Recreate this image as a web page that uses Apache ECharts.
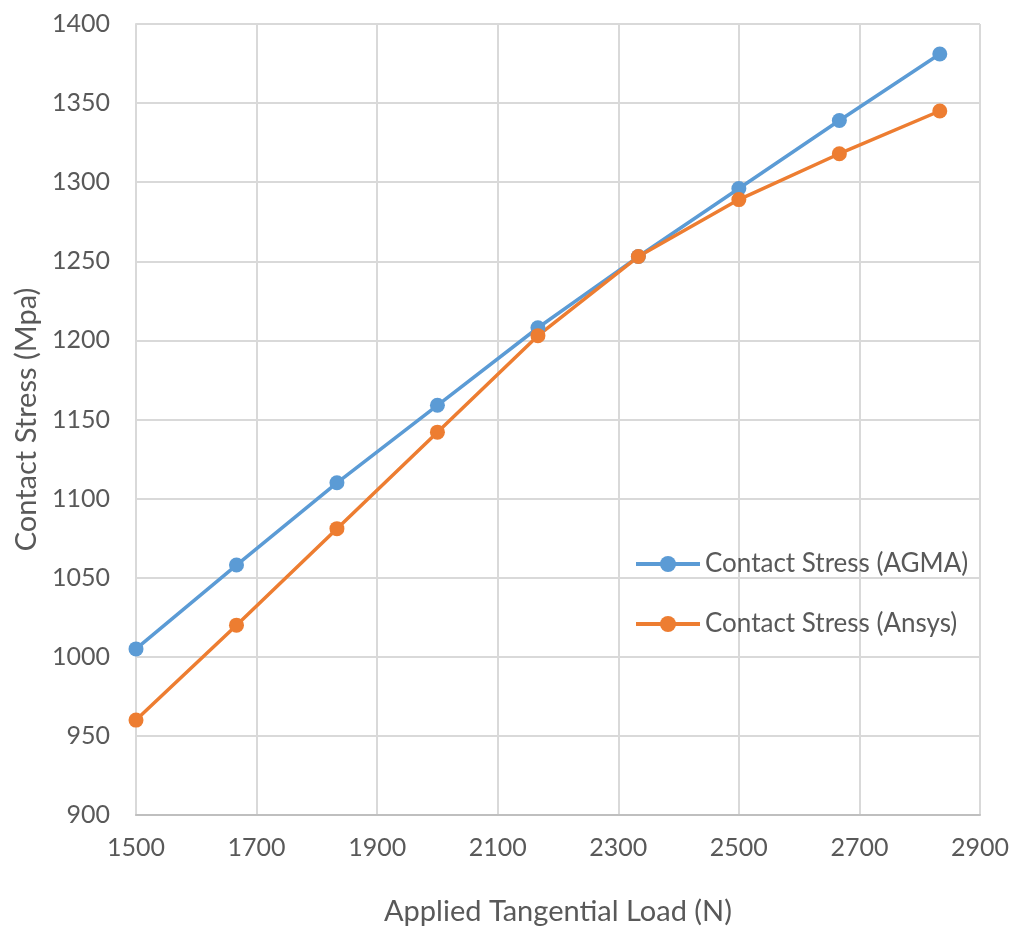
<!DOCTYPE html>
<html>
<head>
<meta charset="utf-8">
<script src="https://cdn.jsdelivr.net/npm/echarts@6/dist/echarts.min.js"></script>
<style>
  html, body { margin: 0; padding: 0; background: #fff; }
  #chart { width: 1013px; height: 930px; }
</style>
</head>
<body>
<div id="chart"></div>
<script>
// applied tangential load (N)
var loads = [1500, 1666.7, 1833.3, 2000, 2166.7, 2333.3, 2500, 2666.7, 2833.3];
// contact stress (MPa)
var agma = [1005, 1058, 1110, 1159, 1208, 1253, 1296, 1339, 1381];
var ansys = [960, 1020, 1081, 1142, 1203, 1253, 1289, 1318, 1345];

function pairs(xs, ys) {
    var out = [];
    for (var i = 0; i < xs.length; i++) {
        out.push([xs[i], ys[i]]);
    }
    return out;
}

var font = 'Lato, "Open Sans", sans-serif';
var textColor = '#595959';

var myChart = echarts.init(document.getElementById('chart'));
var option = {
    animation: false,
    textStyle: { fontFamily: font },
    grid: { left: 136, right: 33, top: 24, bottom: 115, outerBoundsMode: 'none' },
    legend: {
        orient: 'vertical',
        left: 629,
        top: 546,
        itemWidth: 64,
        itemHeight: 20,
        itemGap: 34,
        lineStyle: { width: 4 },
        textStyle: { fontSize: 26, color: textColor, fontFamily: font },
        data: ['Contact Stress (AGMA)', 'Contact Stress (Ansys)']
    },
    xAxis: {
        type: 'value',
        min: 1500,
        max: 2900,
        interval: 200,
        name: 'Applied Tangential Load (N)',
        nameLocation: 'middle',
        nameGap: 82,
        nameTextStyle: { fontSize: 29, color: textColor },
        axisLine: { lineStyle: { color: '#bfbfbf', width: 2 } },
        axisTick: { show: false },
        axisLabel: { fontSize: 25, color: textColor, margin: 20, formatter: function(v) { return String(v); } },
        splitLine: { lineStyle: { color: '#d9d9d9', width: 2 } }
    },
    yAxis: {
        type: 'value',
        min: 900,
        max: 1400,
        interval: 50,
        name: 'Contact Stress (Mpa)',
        nameLocation: 'middle',
        nameGap: 92,
        nameTextStyle: { fontSize: 29, color: textColor },
        axisLine: { show: true, lineStyle: { color: '#d9d9d9', width: 2 } },
        axisTick: { show: false },
        axisLabel: { fontSize: 25, color: textColor, margin: 26, formatter: function(v) { return String(v); } },
        splitLine: { lineStyle: { color: '#d9d9d9', width: 2 } }
    },
    series: [
        {
            name: 'Contact Stress (AGMA)',
            type: 'line',
            data: pairs(loads, agma),
            symbol: 'circle',
            symbolSize: 15,
            itemStyle: { color: '#5B9BD5' },
            lineStyle: { color: '#5B9BD5', width: 3.5 }
        },
        {
            name: 'Contact Stress (Ansys)',
            type: 'line',
            data: pairs(loads, ansys),
            symbol: 'circle',
            symbolSize: 15,
            itemStyle: { color: '#ED7D31' },
            lineStyle: { color: '#ED7D31', width: 3.5 }
        }
    ]
};
myChart.setOption(option);
</script>
</body>
</html>
